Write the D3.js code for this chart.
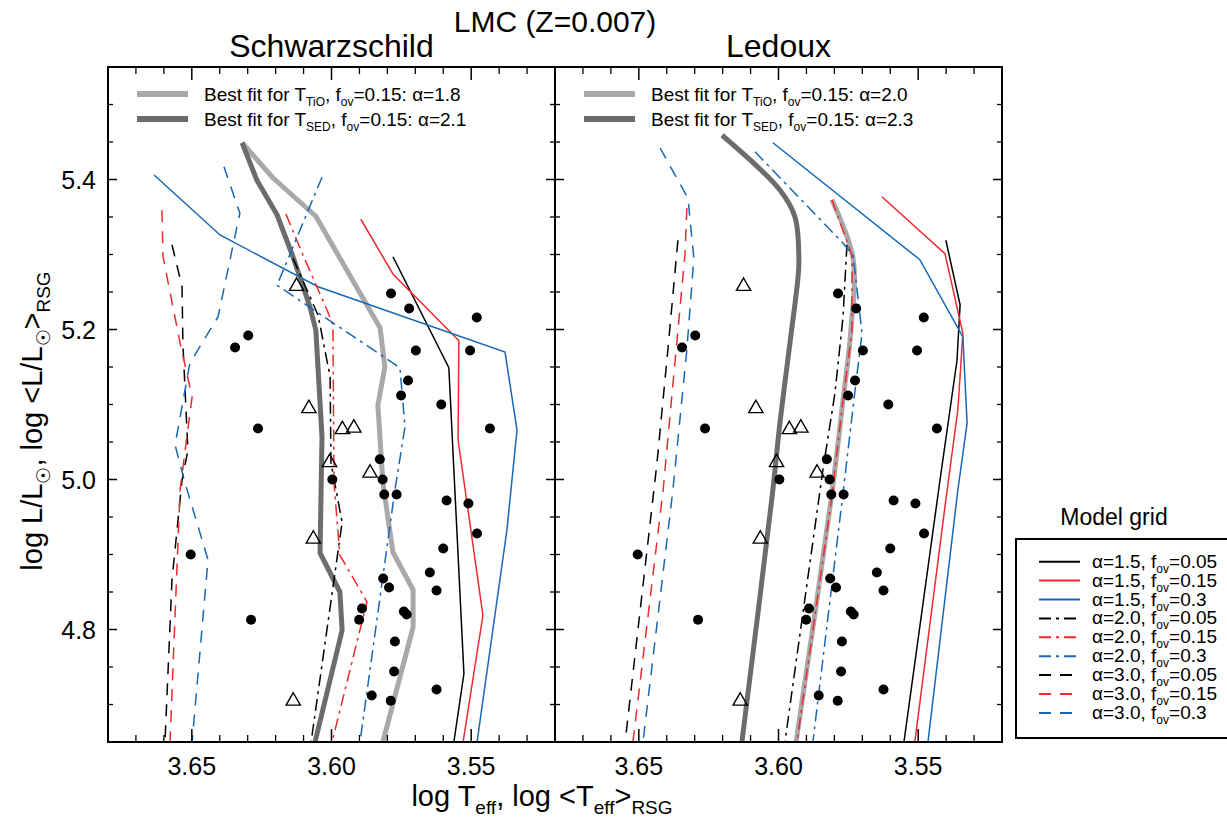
<!DOCTYPE html>
<html>
<head>
<meta charset="utf-8">
<script src="https://cdn.jsdelivr.net/npm/d3@7"></script>
<style>
  body { margin: 0; background: #fff; }
  text { font-family: "Liberation Sans", Arial, Helvetica, sans-serif; fill: #000; }
</style>
</head>
<body>
<svg id="chart" width="1227" height="831"></svg>
<script>
// observed red supergiants, [log Teff, log L]
const rsgDots = [
  [3.5787, 5.248], [3.5722, 5.228], [3.548, 5.216], [3.6298, 5.192], [3.6345, 5.176],
  [3.5698, 5.172], [3.5504, 5.172], [3.5726, 5.132], [3.5751, 5.112], [3.5607, 5.100],
  [3.6263, 5.068], [3.5433, 5.068], [3.5827, 5.027], [3.5817, 5.000], [3.5997, 5.000],
  [3.5811, 4.980], [3.5767, 4.980], [3.5588, 4.972], [3.5510, 4.968], [3.5479, 4.928],
  [3.5600, 4.908], [3.6504, 4.900], [3.5648, 4.876], [3.5815, 4.868], [3.5794, 4.856],
  [3.5624, 4.852], [3.5891, 4.828], [3.5741, 4.824], [3.5731, 4.820], [3.5901, 4.813],
  [3.6288, 4.813], [3.5773, 4.784], [3.5776, 4.744], [3.5624, 4.720], [3.5856, 4.712],
  [3.5788, 4.705]
];
const rsgTriangles = [
  [3.6125, 5.259], [3.6081, 5.096], [3.5961, 5.068], [3.5920, 5.070],
  [3.6007, 5.024], [3.5862, 5.010], [3.6065, 4.922], [3.6137, 4.706]
];

// Schwarzschild tracks
const schw_a15_f005 = [[3.578, 5.297], [3.558, 5.149], [3.5526, 4.741], [3.5562, 4.65]];
const schw_a15_f015 = [[3.5895, 5.347], [3.578, 5.274], [3.5544, 5.185], [3.5547, 5.053], [3.5458, 4.819], [3.5529, 4.65]];
const schw_a15_f03  = [[3.6635, 5.406], [3.6399, 5.326], [3.6048, 5.257], [3.5379, 5.170], [3.5336, 5.066], [3.5372, 4.933], [3.5479, 4.65]];
const schw_a20_f005 = [[3.6138, 5.295], [3.6048, 5.219], [3.6005, 5.137], [3.6002, 5.022], [3.5962, 4.943], [3.6073, 4.65]];
const schw_a20_f015 = [[3.6163, 5.354], [3.6102, 5.299], [3.6016, 5.226], [3.5995, 5.206], [3.5991, 4.995], [3.597, 4.899], [3.5873, 4.837], [3.5998, 4.65]];
const schw_a20_f03  = [[3.6034, 5.403], [3.6195, 5.259], [3.5755, 5.149], [3.5737, 5.070], [3.5773, 4.986], [3.5898, 4.65]];
const schw_a30_f005 = [[3.6571, 5.313], [3.6535, 5.257], [3.6532, 5.182], [3.6514, 5.039], [3.6535, 4.999], [3.6571, 4.866], [3.6596, 4.65]];
const schw_a30_f015 = [[3.6607, 5.359], [3.6603, 5.297], [3.6542, 5.182], [3.6499, 5.110], [3.6524, 5.039], [3.6542, 4.986], [3.6578, 4.65]];
const schw_a30_f03  = [[3.6385, 5.417], [3.6328, 5.355], [3.6356, 5.306], [3.6406, 5.217], [3.6507, 5.155], [3.656, 5.046], [3.6524, 4.995], [3.6442, 4.893], [3.6499, 4.65]];
const schw_fitTiO   = [[3.632, 5.449], [3.6209, 5.402], [3.6056, 5.351], [3.5826, 5.202], [3.5809, 5.150], [3.5834, 5.099], [3.5816, 4.995], [3.578, 4.903], [3.5708, 4.853], [3.5708, 4.803], [3.5816, 4.65]];
const schw_fitSED   = [[3.632, 5.449], [3.6267, 5.399], [3.6195, 5.353], [3.6138, 5.297], [3.6077, 5.230], [3.6056, 5.199], [3.6034, 5.057], [3.6041, 4.902], [3.597, 4.850], [3.5962, 4.799], [3.6059, 4.65]];

// Ledoux tracks
const led_a15_f005 = [[3.5401, 5.319], [3.535, 5.233], [3.5361, 5.159], [3.5422, 4.999], [3.5551, 4.65]];
const led_a15_f015 = [[3.563, 5.377], [3.5404, 5.301], [3.534, 5.195], [3.5358, 5.093], [3.5401, 4.973], [3.5512, 4.65]];
const led_a15_f03  = [[3.602, 5.449], [3.5494, 5.293], [3.534, 5.190], [3.5325, 5.075], [3.5358, 4.986], [3.5465, 4.65]];
const led_a20_f005 = [[3.5755, 5.313], [3.5769, 5.217], [3.5798, 5.115], [3.5841, 5.013], [3.5977, 4.65]];
const led_a20_f015 = [[3.5809, 5.373], [3.5737, 5.299], [3.5737, 5.199], [3.5769, 5.106], [3.5809, 4.977], [3.5934, 4.65]];
const led_a20_f03  = [[3.6084, 5.437], [3.5769, 5.315], [3.5733, 5.299], [3.5701, 5.195], [3.5726, 5.119], [3.5769, 4.982], [3.5877, 4.65]];
const led_a30_f005 = [[3.636, 5.319], [3.6396, 5.173], [3.6435, 5.022], [3.6549, 4.65]];
const led_a30_f015 = [[3.6328, 5.362], [3.6335, 5.299], [3.6413, 4.986], [3.6521, 4.65]];
const led_a30_f03  = [[3.6424, 5.442], [3.6324, 5.375], [3.6303, 5.295], [3.6328, 5.173], [3.6378, 4.986], [3.6485, 4.65]];
const led_fitTiO   = [[3.5809, 5.373], [3.5733, 5.295], [3.5741, 5.199], [3.5769, 5.106], [3.5812, 4.973], [3.5937, 4.65]];
const led_fitSED   = [[3.6202, 5.459], [3.5995, 5.386], [3.5941, 5.350], [3.5927, 5.293], [3.593, 5.270], [3.5959, 5.182], [3.5995, 5.075], [3.6023, 4.977], [3.6131, 4.65]];

const gridAlpha = ["1.5", "1.5", "1.5", "2.0", "2.0", "2.0", "3.0", "3.0", "3.0"];
const gridFov   = ["0.05", "0.15", "0.3", "0.05", "0.15", "0.3", "0.05", "0.15", "0.3"];
const schwFitAlpha = ["1.8", "2.1"];
const ledFitAlpha  = ["2.0", "2.3"];

const xMajor = [3.65, 3.60, 3.55];
const xTickLabels = ["3.65", "3.60", "3.55"];
const yMajor = [4.8, 5.0, 5.2, 5.4];
const yTickLabels = ["4.8", "5.0", "5.2", "5.4"];

// ---- styling ----
const fovColor = { "0.05": "#000000", "0.15": "#ee2a2e", "0.3": "#1768b4" };
const alphaDash = { "1.5": null, "2.0": "12,5,3,5", "3.0": "12,9" };
const fitColor = ["#a9a9a9", "#6c6c6c"];

const svg = d3.select("#chart");
const plotTop = 67, plotBottom = 742;
const y = d3.scaleLinear().domain([4.65, 5.55]).range([plotBottom, plotTop]);

const xMinor = d3.range(3.53, 3.675, 0.01).filter(v => !xMajor.some(m => Math.abs(m - v) < 1e-6));
const yMinor = d3.range(4.70, 5.55, 0.05).filter(v => !yMajor.some(m => Math.abs(m - v) < 1e-6));

const panels = [
  { name: "Schwarzschild", x0: 108, x1: 555, curve: d3.curveLinear, grid: [schw_a15_f005, schw_a15_f015, schw_a15_f03, schw_a20_f005, schw_a20_f015, schw_a20_f03, schw_a30_f005, schw_a30_f015, schw_a30_f03], fits: [schw_fitTiO, schw_fitSED], fitAlpha: schwFitAlpha, yLabels: true },
  { name: "Ledoux", x0: 555, x1: 1002, curve: d3.curveCatmullRom, grid: [led_a15_f005, led_a15_f015, led_a15_f03, led_a20_f005, led_a20_f015, led_a20_f03, led_a30_f005, led_a30_f015, led_a30_f03], fits: [led_fitTiO, led_fitSED], fitAlpha: ledFitAlpha, yLabels: false }
];

// rich text helper: parts = [[string, isSub]]
function rich(sel, parts, fs, subFs, shift) {
  let down = false;
  parts.forEach(([s, sub]) => {
    const t = sel.append("tspan").text(s);
    if (sub) { t.attr("font-size", subFs).attr("dy", down ? 0 : shift); down = true; }
    else { t.attr("font-size", fs); if (down) t.attr("dy", -shift); down = false; }
  });
}

panels.forEach((p, pi) => {
  const x = d3.scaleLinear().domain([3.68, 3.52]).range([p.x0, p.x1]);
  const g = svg.append("g");
  const clipId = "clip" + pi;
  svg.append("clipPath").attr("id", clipId).append("rect")
    .attr("x", p.x0).attr("y", plotTop).attr("width", p.x1 - p.x0).attr("height", plotBottom - plotTop);

  const line = d3.line().x(d => x(d[0])).y(d => y(d[1]));
  const fitLine = d3.line().x(d => x(d[0])).y(d => y(d[1])).curve(p.curve);
  const plot = g.append("g").attr("clip-path", `url(#${clipId})`);

  // best fit tracks
  p.fits.forEach((pts, i) => {
    plot.append("path").attr("d", fitLine(pts)).attr("fill", "none")
      .attr("stroke", fitColor[i]).attr("stroke-width", 5).attr("stroke-linejoin", "round");
  });

  // model grid
  p.grid.forEach((pts, i) => {
    plot.append("path").attr("d", line(pts)).attr("fill", "none")
      .attr("stroke", fovColor[gridFov[i]]).attr("stroke-width", 1.5)
      .attr("stroke-dasharray", alphaDash[gridAlpha[i]]);
  });

  // observations
  plot.selectAll("circle.rsg").data(rsgDots).enter().append("circle")
    .attr("cx", d => x(d[0])).attr("cy", d => y(d[1])).attr("r", 5).attr("fill", "#000");
  plot.selectAll("path.tri").data(rsgTriangles).enter().append("path")
    .attr("d", d3.symbol(d3.symbolTriangle, 88))
    .attr("transform", d => `translate(${x(d[0])},${y(d[1]) + 1})`)
    .attr("fill", "none").attr("stroke", "#000").attr("stroke-width", 1.4);

  // axes with inward ticks
  const ax = g.append("g").attr("stroke", "#000");
  const tick = (x1, y1, x2, y2, w) => ax.append("line").attr("x1", x1).attr("y1", y1).attr("x2", x2).attr("y2", y2).attr("stroke-width", w);
  xMinor.forEach(v => { tick(x(v), plotBottom, x(v), plotBottom - 7, 1.3); tick(x(v), plotTop, x(v), plotTop + 7, 1.3); });
  xMajor.forEach(v => { tick(x(v), plotBottom, x(v), plotBottom - 13, 1.5); tick(x(v), plotTop, x(v), plotTop + 13, 1.5); });
  yMinor.forEach(v => { tick(p.x0, y(v), p.x0 + 5, y(v), 1.3); tick(p.x1, y(v), p.x1 - 5, y(v), 1.3); });
  yMajor.forEach(v => { tick(p.x0, y(v), p.x0 + 9, y(v), 1.5); tick(p.x1, y(v), p.x1 - 9, y(v), 1.5); });
  g.append("rect").attr("x", p.x0).attr("y", plotTop).attr("width", p.x1 - p.x0).attr("height", plotBottom - plotTop)
    .attr("fill", "none").attr("stroke", "#000").attr("stroke-width", 2);

  xMajor.forEach((v, i) => {
    g.append("text").attr("x", x(v)).attr("y", 775).attr("text-anchor", "middle")
      .attr("font-size", 25).text(xTickLabels[i]);
  });
  if (p.yLabels) {
    yMajor.forEach((v, i) => {
      g.append("text").attr("x", 96).attr("y", y(v) + 9).attr("text-anchor", "end")
        .attr("font-size", 25).text(yTickLabels[i]);
    });
  }

  // panel title
  svg.append("text").attr("x", (p.x0 + p.x1) / 2).attr("y", 57).attr("text-anchor", "middle")
    .attr("font-size", 32).text(p.name);

  // best-fit legend
  const lx = p.x0 + 29;
  [["TiO"], ["SED"]].forEach(([src], i) => {
    const ly = 94 + i * 25;
    g.append("line").attr("x1", lx).attr("x2", lx + 51).attr("y1", ly).attr("y2", ly)
      .attr("stroke", fitColor[i]).attr("stroke-width", 6);
    const t = g.append("text").attr("x", lx + 67).attr("y", ly + 7);
    rich(t, [["Best fit for T", false], [src, true], [", f", false], ["ov", true], ["=0.15: \u03b1=" + p.fitAlpha[i], false]], 19, 12, 5);
  });
});

// global title
svg.append("text").attr("x", 555).attr("y", 32).attr("text-anchor", "middle").attr("font-size", 30).text("LMC (Z=0.007)");

// axis labels
const xl = svg.append("text").attr("x", 542).attr("y", 806).attr("text-anchor", "middle");
rich(xl, [["log T", false], ["eff", true], [", log <T", false], ["eff", true], [">", false], ["RSG", true]], 29, 19, 8);
const yl = svg.append("text").attr("transform", "translate(42,421) rotate(-90)").attr("text-anchor", "middle");
rich(yl, [["log L/L", false], ["\u2609", true], [", log <L/L", false], ["\u2609", true], [">", false], ["RSG", true]], 29, 19, 8);

// model grid legend
svg.append("text").attr("x", 1114).attr("y", 525).attr("text-anchor", "middle").attr("font-size", 23).text("Model grid");
svg.append("rect").attr("x", 1016).attr("y", 539).attr("width", 230).attr("height", 199)
  .attr("fill", "none").attr("stroke", "#000").attr("stroke-width", 2);
gridAlpha.forEach((a, i) => {
  const ry = 561.7 + i * 18.9;
  svg.append("line").attr("x1", 1039).attr("x2", 1080).attr("y1", ry).attr("y2", ry)
    .attr("stroke", fovColor[gridFov[i]]).attr("stroke-width", 2)
    .attr("stroke-dasharray", alphaDash[a]);
  const t = svg.append("text").attr("x", 1092).attr("y", ry + 6);
  rich(t, [["\u03b1=" + a + ", f", false], ["ov", true], ["=" + gridFov[i], false]], 19, 12, 5);
});
</script>
</body>
</html>
